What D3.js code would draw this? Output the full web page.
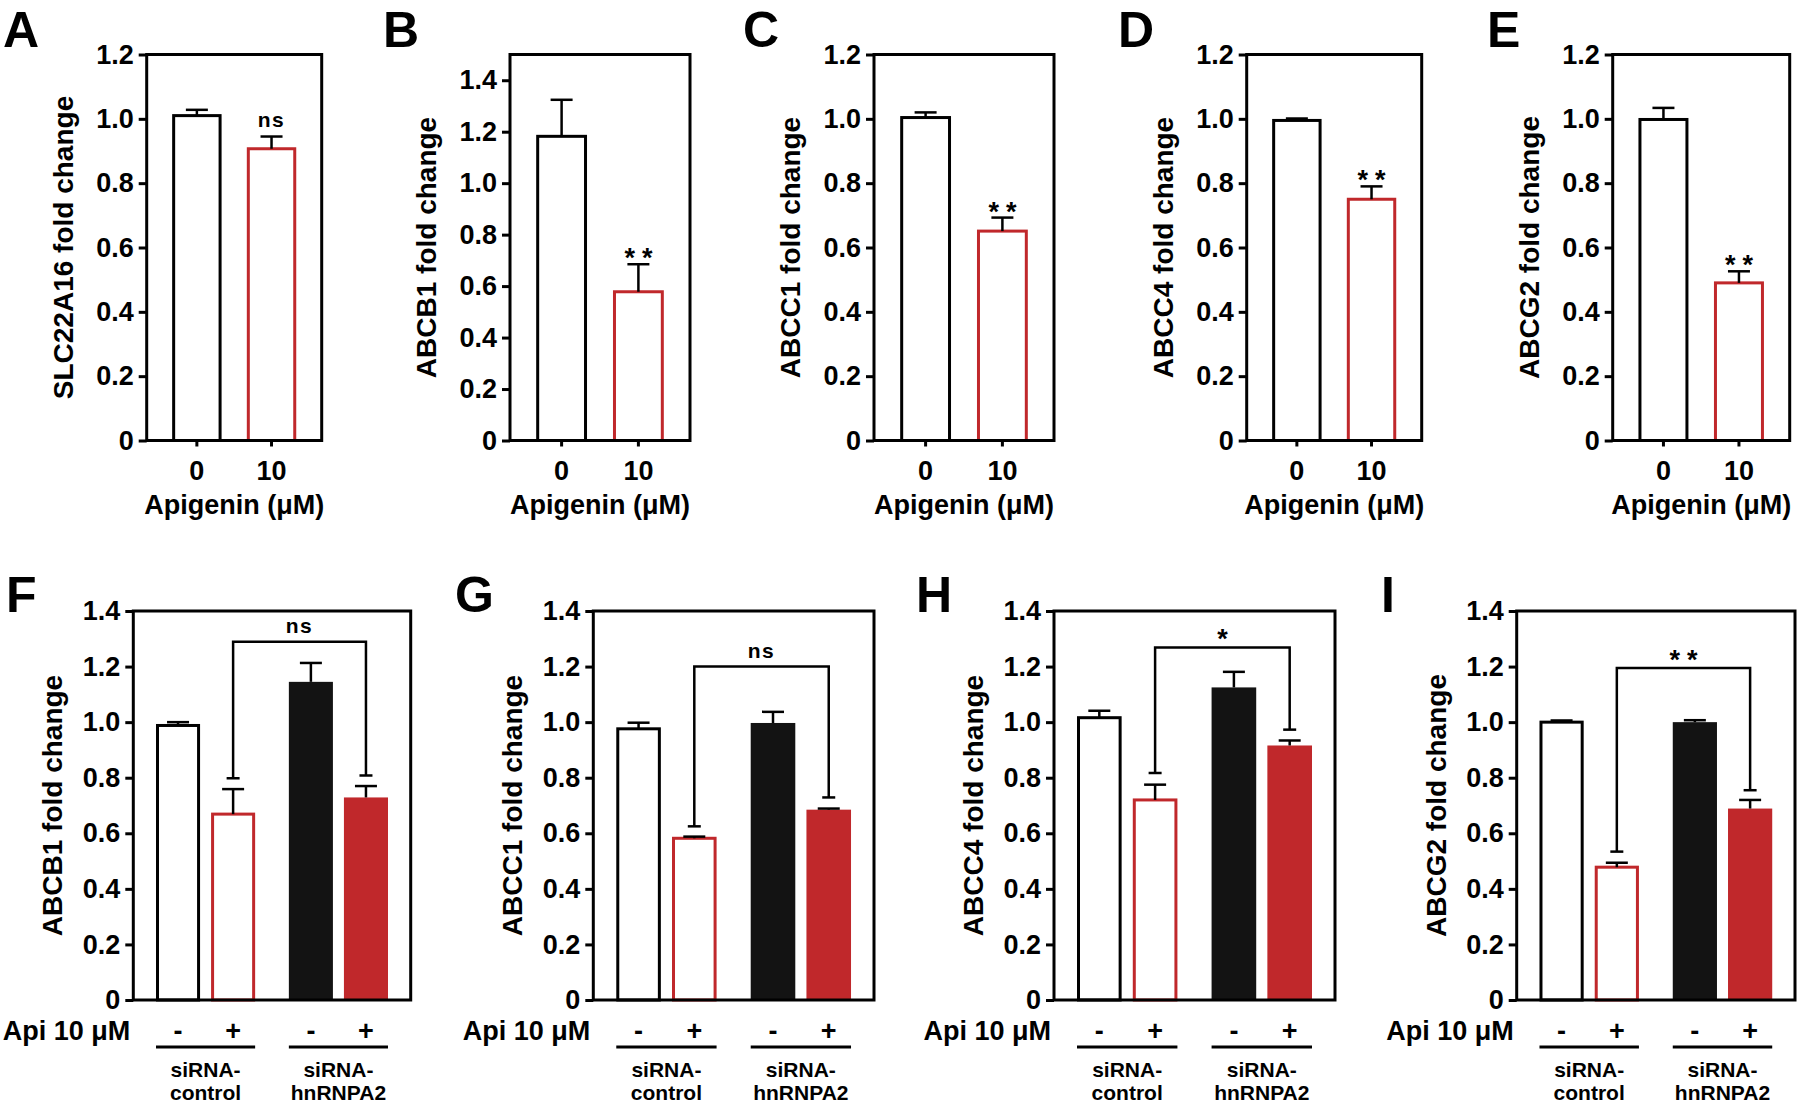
<!DOCTYPE html>
<html>
<head>
<meta charset="utf-8">
<script src="https://cdn.jsdelivr.net/npm/d3@7"></script>
<style>
  html, body { margin: 0; padding: 0; background: #fff; }
  svg text { font-family: "Liberation Sans", Arial, Helvetica, sans-serif; font-weight: bold; fill: #000; }
</style>
</head>
<body>
<script>
// ---------------- DATA ----------------
// Top row (A–E): apigenin dose response
const topLetters = ["A", "B", "C", "D", "E"];
const topTitles = ["SLC22A16 fold change", "ABCB1 fold change", "ABCC1 fold change", "ABCC4 fold change", "ABCG2 fold change"];
const doses = ["0", "10"];
const doseTitle = "Apigenin (μM)";
const topMean = [
  [1.01, 0.907],
  [1.182, 0.578],
  [1.004, 0.651],
  [0.995, 0.75],
  [0.998, 0.49]
];
const topSem = [
  [0.018, 0.038],
  [0.142, 0.107],
  [0.016, 0.042],
  [0.006, 0.04],
  [0.036, 0.036]
];
const topYMax = [1.2, 1.5, 1.2, 1.2, 1.2];
const ticks12 = [0, 0.2, 0.4, 0.6, 0.8, 1.0, 1.2];
const ticks14 = [0, 0.2, 0.4, 0.6, 0.8, 1.0, 1.2, 1.4];
const topTicks = [ticks12, ticks14, ticks12, ticks12, ticks12];
const topSig = ["ns", "**", "**", "**", "**"];

// Bottom row (F–I): siRNA knockdown
const botLetters = ["F", "G", "H", "I"];
const botTitles = ["ABCB1 fold change", "ABCC1 fold change", "ABCC4 fold change", "ABCG2 fold change"];
const groups = ["siRNA-control", "siRNA-hnRNPA2"];
const groupLines = [["siRNA-", "control"], ["siRNA-", "hnRNPA2"]];
const treatments = ["-", "+"];
const treatTitle = "Api 10 μM";
const botMean = [
  [0.988, 0.669, 1.145, 0.729],
  [0.976, 0.582, 0.997, 0.685],
  [1.016, 0.72, 1.125, 0.916],
  [1.0, 0.478, 1.0, 0.689]
];
const botSem = [
  [0.012, 0.09, 0.068, 0.041],
  [0.022, 0.006, 0.04, 0.004],
  [0.025, 0.055, 0.056, 0.018],
  [0.006, 0.016, 0.007, 0.031]
];
const botYMax = 1.4;
const bracketTop = [1.289, 1.2, 1.269, 1.195];
const bracketLegs = [[0.798, 0.808], [0.625, 0.729], [0.817, 0.973], [0.534, 0.755]];
const botSig = ["ns", "ns", "*", "**"];

// ---------------- LAYOUT ----------------
const RED = "#c0282b";
const BLACK = "#000";
const FILLBLACK = "#131313";
const topLeft = [146.7, 510, 874, 1246.7, 1612.7];
const topWidth = [175, 180, 180, 175, 177];
const topTop = 54.5, topBottom = 440.5;
const topLetterX = [3, 383, 743, 1118, 1487];
const botLeft = [133.3, 593.3, 1054, 1516.7];
const botWidth = [277.4, 280.7, 281, 278.3];
const botTop = 611, botBottom = 1000;
const botLetterX = [6, 455, 916, 1381];

const svg = d3.select("body").append("svg")
  .attr("width", 1800).attr("height", 1105);

function fmt(d) { return d === 0 ? "0" : d.toFixed(1); }

function drawYAxis(g, y, tickVals, left) {
  const ax = g.append("g").attr("transform", `translate(${left},0)`)
    .call(d3.axisLeft(y).tickValues(tickVals).tickFormat(fmt).tickSize(8).tickSizeOuter(0).tickPadding(5));
  ax.select(".domain").remove();
  ax.selectAll(".tick line").attr("stroke", BLACK).attr("stroke-width", 3);
  ax.selectAll(".tick text").attr("font-size", 27).attr("fill", BLACK);
}

function errorBar(g, cx, y, mean, sem, half) {
  g.append("line").attr("x1", cx).attr("x2", cx)
    .attr("y1", y(mean)).attr("y2", y(mean + sem))
    .attr("stroke", BLACK).attr("stroke-width", 2.5);
  g.append("line").attr("x1", cx - half).attr("x2", cx + half)
    .attr("y1", y(mean + sem)).attr("y2", y(mean + sem))
    .attr("stroke", BLACK).attr("stroke-width", 2.5);
}

function sigText(g, x, yBase, s) {
  if (s === "ns") {
    g.append("text").attr("x", x).attr("y", yBase - 10)
      .attr("text-anchor", "middle").attr("font-size", 21)
      .style("letter-spacing", "1.5px").text(s);
  } else {
    const ls = 7;
    g.append("text").attr("x", x + (s.length > 1 ? ls / 2 : 0)).attr("y", yBase + 3)
      .attr("text-anchor", "middle").attr("font-size", 27)
      .style("letter-spacing", (s.length > 1 ? ls : 0) + "px").text(s);
  }
}

// ---------------- TOP ROW ----------------
topLetters.forEach((L, i) => {
  const left = topLeft[i], w = topWidth[i], right = left + w;
  const g = svg.append("g");
  const y = d3.scaleLinear().domain([0, topYMax[i]]).range([topBottom, topTop]);
  const x = d3.scaleBand().domain(doses).range([left, right]).paddingInner(0.338).paddingOuter(0.341);
  const bw = x.bandwidth();

  g.selectAll("rect.bar").data(doses).join("rect")
    .attr("class", "bar")
    .attr("x", d => x(d) + 1.5)
    .attr("width", bw - 3)
    .attr("y", (d, j) => y(topMean[i][j]))
    .attr("height", (d, j) => y(0) - y(topMean[i][j]))
    .attr("fill", "#fff")
    .attr("stroke", (d, j) => j === 0 ? BLACK : RED)
    .attr("stroke-width", 3);

  doses.forEach((d, j) => errorBar(g, x(d) + bw / 2, y, topMean[i][j], topSem[i][j], 11));

  // frame
  g.append("rect").attr("x", left).attr("y", topTop).attr("width", w).attr("height", topBottom - topTop)
    .attr("fill", "none").attr("stroke", BLACK).attr("stroke-width", 3);

  drawYAxis(g, y, topTicks[i], left);

  const xa = g.append("g").attr("transform", `translate(0,${topBottom})`)
    .call(d3.axisBottom(x).tickSize(6).tickSizeOuter(0).tickPadding(14));
  xa.select(".domain").remove();
  xa.selectAll(".tick line").attr("stroke", BLACK).attr("stroke-width", 3);
  xa.selectAll(".tick text").attr("font-size", 27).attr("fill", BLACK);

  g.append("text").attr("x", (left + right) / 2).attr("y", topBottom + 73)
    .attr("text-anchor", "middle").attr("font-size", 27).text(doseTitle);

  g.append("text")
    .attr("transform", `translate(${left - 74},${(topTop + topBottom) / 2}) rotate(-90)`)
    .attr("text-anchor", "middle").attr("font-size", 28).text(topTitles[i]);

  // significance above treated bar
  sigText(g, x(doses[1]) + bw / 2, y(topMean[i][1] + topSem[i][1]), topSig[i]);

  svg.append("text").attr("x", topLetterX[i]).attr("y", 47)
    .attr("font-size", 50).text(L);
});

// ---------------- BOTTOM ROW ----------------
botLetters.forEach((L, i) => {
  const left = botLeft[i], w = botWidth[i], right = left + w;
  const g = svg.append("g");
  const y = d3.scaleLinear().domain([0, botYMax]).range([botBottom, botTop]);
  const x0 = d3.scaleBand().domain(groups).range([left, right]).paddingInner(0.088).paddingOuter(0.088);
  const x1 = d3.scaleBand().domain(treatments).range([0, x0.bandwidth()]).padding(0.2);
  const bw = x1.bandwidth();

  const bars = [];
  groups.forEach((gr, gi) => treatments.forEach((t, ti) => {
    bars.push({ gr, t, k: gi * 2 + ti, x: x0(gr) + x1(t) });
  }));

  bars.forEach(b => {
    const m = botMean[i][b.k];
    const hollow = b.k < 2;
    const color = (b.k % 2 === 0) ? (hollow ? BLACK : FILLBLACK) : RED;
    g.append("rect")
      .attr("x", hollow ? b.x + 1.5 : b.x)
      .attr("width", hollow ? bw - 3 : bw)
      .attr("y", y(m))
      .attr("height", y(0) - y(m))
      .attr("fill", hollow ? "#fff" : color)
      .attr("stroke", hollow ? color : "none")
      .attr("stroke-width", 3);
  });
  bars.forEach(b => errorBar(g, b.x + bw / 2, y, botMean[i][b.k], botSem[i][b.k], 11));

  // frame
  g.append("rect").attr("x", left).attr("y", botTop).attr("width", w).attr("height", botBottom - botTop)
    .attr("fill", "none").attr("stroke", BLACK).attr("stroke-width", 3);

  drawYAxis(g, y, ticks14, left);

  // bracket between + bars
  const xl = bars[1].x + bw / 2, xr = bars[3].x + bw / 2;
  const yt = y(bracketTop[i]), yl = y(bracketLegs[i][0]), yr = y(bracketLegs[i][1]);
  g.append("path")
    .attr("d", `M${xl},${yl}V${yt}H${xr}V${yr}`)
    .attr("fill", "none").attr("stroke", BLACK).attr("stroke-width", 2.5);
  [[xl, yl], [xr, yr]].forEach(([cx, cy]) => {
    g.append("line").attr("x1", cx - 6.5).attr("x2", cx + 6.5).attr("y1", cy).attr("y2", cy)
      .attr("stroke", BLACK).attr("stroke-width", 2.5);
  });
  const s = botSig[i];
  if (s === "ns") {
    g.append("text").attr("x", (xl + xr) / 2).attr("y", yt - 9)
      .attr("text-anchor", "middle").attr("font-size", 21).style("letter-spacing", "1.5px").text(s);
  } else {
    const ls = 7;
    g.append("text").attr("x", (xl + xr) / 2 + (s.length > 1 ? ls / 2 : 0)).attr("y", yt + 1)
      .attr("text-anchor", "middle").attr("font-size", 27).style("letter-spacing", (s.length > 1 ? ls : 0) + "px").text(s);
  }

  // treatment row
  g.append("text").attr("x", left - 3).attr("y", botBottom + 40)
    .attr("text-anchor", "end").attr("font-size", 27).text(treatTitle);
  bars.forEach(b => {
    g.append("text").attr("x", b.x + bw / 2).attr("y", botBottom + 40)
      .attr("text-anchor", "middle").attr("font-size", 27).text(b.t);
  });
  groups.forEach((gr, gi) => {
    const xs = x0(gr) + x1(treatments[0]);
    const xe = x0(gr) + x1(treatments[1]) + bw;
    g.append("line").attr("x1", xs).attr("x2", xe)
      .attr("y1", botBottom + 47).attr("y2", botBottom + 47)
      .attr("stroke", BLACK).attr("stroke-width", 3);
    const t = g.append("text").attr("text-anchor", "middle").attr("font-size", 21);
    groupLines[gi].forEach((ln, li) => {
      t.append("tspan").attr("x", x0(gr) + x0.bandwidth() / 2).attr("y", botBottom + 77 + li * 23).text(ln);
    });
  });

  g.append("text")
    .attr("transform", `translate(${left - 71},${(botTop + botBottom) / 2}) rotate(-90)`)
    .attr("text-anchor", "middle").attr("font-size", 28).text(botTitles[i]);

  svg.append("text").attr("x", botLetterX[i]).attr("y", 612)
    .attr("font-size", 50).text(L);
});
</script>
</body>
</html>
